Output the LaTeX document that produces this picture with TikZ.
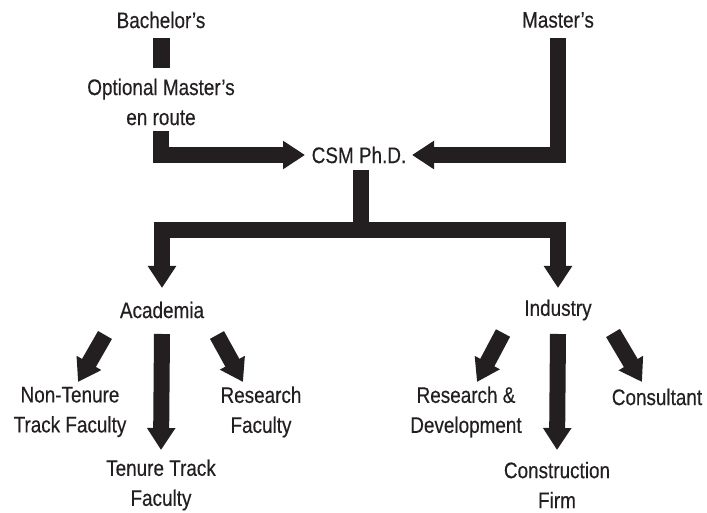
\documentclass[tikz,border=0pt]{standalone}
\usepackage{fontspec}
\setmainfont[FakeStretch=0.84,FakeBold=0.3]{Liberation Sans}
\usetikzlibrary{arrows.meta}
\definecolor{ink}{HTML}{231F20}
\begin{document}
\begin{tikzpicture}[x=1pt,y=1pt,
  lbl/.style={inner sep=0pt, align=center, text=ink, font=\fontsize{22.5}{30}\selectfont},
  bar/.style={draw=ink, line width=17pt},
  arr/.style={draw=ink, line width=16pt, line join=miter, -{Triangle[width=27pt,length=22pt]}}]
\fill[white] (0,0) rectangle (707,-513);
\useasboundingbox (0,0) rectangle (707,-513);
% nodes
\node[lbl] (bach) at (161,-20) {Bachelor’s};
\node[lbl] (opt) at (161,-102) {Optional Master’s\\en route};
\node[lbl] (mast) at (558,-20) {Master’s};
\node[lbl] (csm) at (359,-155) {CSM Ph.D.};
\node[lbl] (acad) at (162,-310) {Academia};
\node[lbl] (ind) at (558,-310) {Industry};
\node[lbl] (ntt) at (70,-412) {Non-Tenure\\Track Faculty};
\node[lbl] (rf) at (261,-412) {Research\\Faculty};
\node[lbl] (tt) at (161,-485) {Tenure Track\\Faculty};
\node[lbl] (rd) at (466,-412) {Research \&\\Development};
\node[lbl] (cons) at (657,-397) {Consultant};
\node[lbl] (cf) at (557,-485) {Construction\\Firm};
\coordinate (j) at (360.5,-230);
% connectors
\draw[bar] ([yshift=-18]bach.center) -- ([yshift=34]opt.center);
\draw[arr] ([yshift=-29]opt.center) |- ([xshift=-54]csm.center);
\draw[arr] ([yshift=-18]mast.center) |- ([xshift=53]csm.center);
\draw[arr] ([xshift=1.5,yshift=-15]csm.center) -- (j) -| ([yshift=22]acad.center);
\draw[arr] ([xshift=1.5,yshift=-15]csm.center) -- (j) -| ([yshift=22]ind.center);
\draw[arr] ([yshift=-24]acad.center) -- ([yshift=35]tt.center);
\draw[arr] ([xshift=-57,yshift=-25]acad.center) -- ([xshift=8,yshift=30]ntt.center);
\draw[arr] ([xshift=55,yshift=-25]acad.center) -- ([xshift=-18,yshift=30]rf.center);
\draw[arr] ([yshift=-24]ind.center) -- ([yshift=35]cf.center);
\draw[arr] ([xshift=-55,yshift=-23]ind.center) -- ([xshift=11,yshift=30]rd.center);
\draw[arr] ([xshift=55,yshift=-23]ind.center) -- ([xshift=-15,yshift=15]cons.center);
\end{tikzpicture}
\end{document}
